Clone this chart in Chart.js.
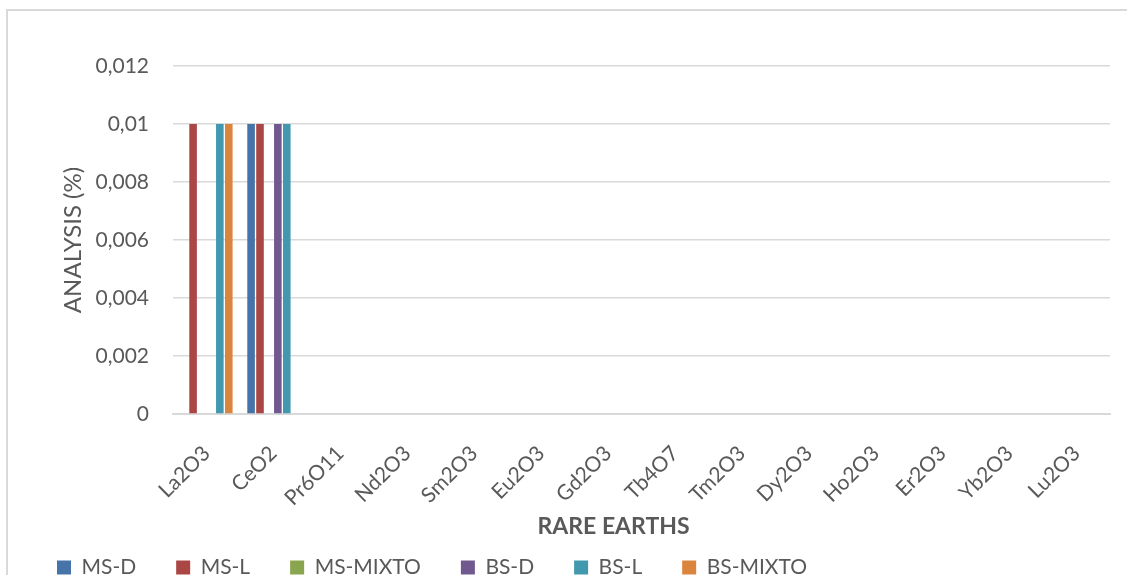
<!DOCTYPE html>
<html>
<head>
<meta charset="utf-8">
<script src="https://cdn.jsdelivr.net/npm/chart.js@4.4.1/dist/chart.umd.min.js"></script>
<style>
html, body { margin: 0; padding: 0; background: #fff; overflow: hidden; }
#frame { position: absolute; left: 6px; top: 9px; width: 1200px; height: 640px; border: 2px solid #d9d9d9; box-sizing: border-box; }
#wrap { position: absolute; left: 0; top: 0; width: 1127px; height: 588px; }
</style>
</head>
<body>
<div id="frame"></div>
<div id="wrap"><canvas id="chart"></canvas></div>
<script>
const categories = ['La2O3', 'CeO2', 'Pr6O11', 'Nd2O3', 'Sm2O3', 'Eu2O3', 'Gd2O3', 'Tb4O7', 'Tm2O3', 'Dy2O3', 'Ho2O3', 'Er2O3', 'Yb2O3', 'Lu2O3'];

const msD     = [0,    0.01, 0, 0, 0, 0, 0, 0, 0, 0, 0, 0, 0, 0];
const msL     = [0.01, 0.01, 0, 0, 0, 0, 0, 0, 0, 0, 0, 0, 0, 0];
const msMixto = [0,    0,    0, 0, 0, 0, 0, 0, 0, 0, 0, 0, 0, 0];
const bsD     = [0,    0.01, 0, 0, 0, 0, 0, 0, 0, 0, 0, 0, 0, 0];
const bsL     = [0.01, 0.01, 0, 0, 0, 0, 0, 0, 0, 0, 0, 0, 0, 0];
const bsMixto = [0.01, 0,    0, 0, 0, 0, 0, 0, 0, 0, 0, 0, 0, 0];

const yTicks = [0, 0.002, 0.004, 0.006, 0.008, 0.01, 0.012];

const textColor = '#595959';
const font = { family: 'Lato', size: 21 };

// formato com virgula decimal
function fmt(v) {
    return String(Number(v.toFixed(3))).replace('.', ',');
}

function ds(label, data, color) {
    return {
        label: label,
        data: data,
        backgroundColor: color,
        borderWidth: 0,
        categoryPercentage: 0.8,
        barPercentage: 0.85
    };
}

const ctx = document.getElementById('chart').getContext('2d');
new Chart(ctx, {
    type: 'bar',
    data: {
        labels: categories,
        datasets: [
            ds('MS-D', msD, '#4674A9'),
            ds('MS-L', msL, '#AA4644'),
            ds('MS-MIXTO', msMixto, '#89A54E'),
            ds('BS-D', bsD, '#71588F'),
            ds('BS-L', bsL, '#4198AF'),
            ds('BS-MIXTO', bsMixto, '#DB843D')
        ]
    },
    options: {
        responsive: true,
        maintainAspectRatio: false,
        animation: false,
        layout: { padding: { left: 17, right: 17, top: 66, bottom: 0 } },
        scales: {
            x: {
                grid: { display: false },
                border: { display: true, color: '#d9d9d9', width: 2 },
                ticks: { color: textColor, font: font, minRotation: 45, maxRotation: 45, autoSkip: false, padding: 19 },
                // espacos no fim puxam o titulo um pouco para a esquerda, como no original
                title: { display: true, text: 'RARE EARTHS' + ' '.repeat(10), color: textColor, font: { family: 'Lato', size: 23, weight: 'bold' }, padding: { top: 0, bottom: -23 } },
                afterFit: s => { s.height = 103; }
            },
            y: {
                min: 0,
                max: 0.012,
                afterBuildTicks: s => { s.ticks = yTicks.map(v => ({ value: v })); },
                ticks: { color: textColor, font: font, padding: 24, callback: v => fmt(v) },
                grid: { color: '#d9d9d9', lineWidth: 1.5, drawTicks: false },
                border: { display: false },
                title: { display: true, text: 'ANALYSIS (%)', color: textColor, font: { family: 'Lato', size: 24 }, padding: { top: 42, bottom: 0 } },
                afterFit: s => { s.width = 156; }
            }
        },
        plugins: {
            legend: {
                position: 'bottom',
                align: 'start',
                labels: { boxWidth: 14, boxHeight: 14, padding: 40, color: textColor, font: font }
            },
            tooltip: { enabled: false }
        }
    }
});
</script>
</body>
</html>
